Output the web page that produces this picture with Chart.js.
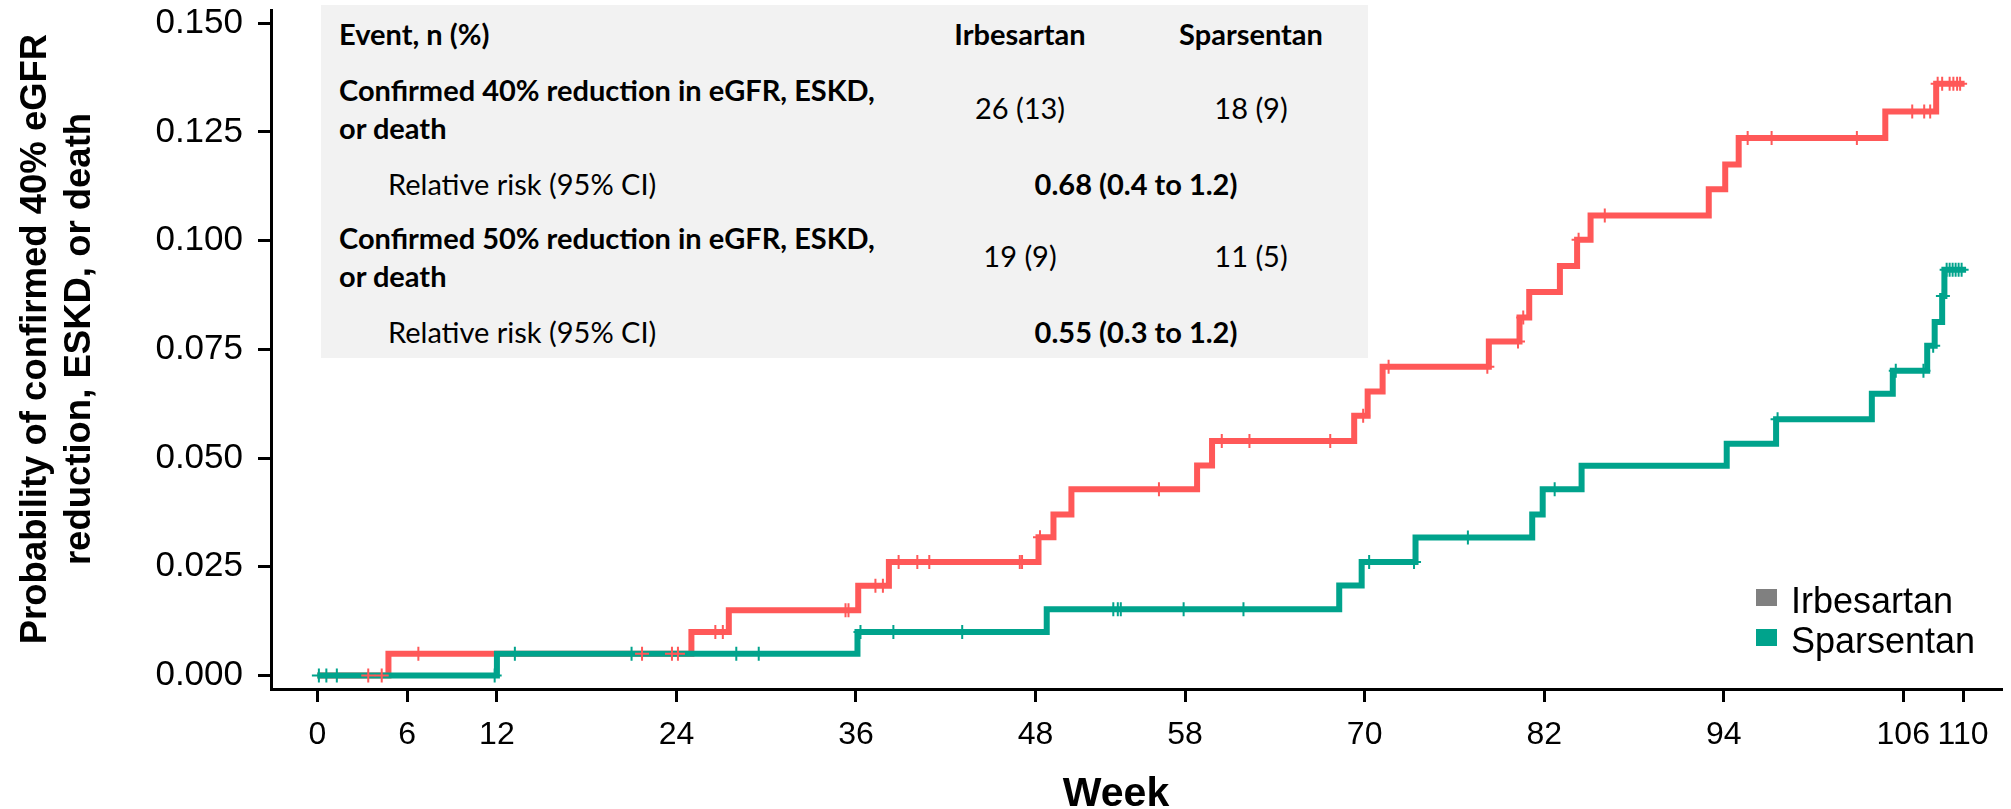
<!DOCTYPE html>
<html>
<head>
<meta charset="utf-8">
<script src="https://cdn.jsdelivr.net/npm/chart.js@4.4.0/dist/chart.umd.min.js"></script>
<style>
  html, body { margin: 0; padding: 0; background: #fff; }
  #wrap { position: relative; width: 2011px; height: 809px; }
  #km { position: absolute; left: 0; top: 0; }
  #inset { position: absolute; left: 321px; top: 5px; width: 1047px; height: 353px;
           background: #f2f2f2; font-family: Lato, 'Open Sans', sans-serif; font-size: 29px; color: #000; }
  #inset span { position: absolute; white-space: nowrap; line-height: 1; }
  .b { font-weight: bold; }
  .l { transform: translateY(-50%); }
  .c { transform: translate(-50%, -50%); }
</style>
</head>
<body>
<div id="wrap">
  <canvas id="km" width="2011" height="809"></canvas>
  <div id="inset"></div>
</div>
<script>
// ---------------------------------------------------------------------------
// Data
// ---------------------------------------------------------------------------

const seriesNames = ['Irbesartan', 'Sparsentan'];
const lineColors = ['#FF5858', '#00A38C'];
const legendColors = ['#808080', '#00A38C'];

const xTitle = 'Week';
const yTitle = ['Probability of confirmed 40% eGFR', 'reduction, ESKD, or death'];
const xTicks = [0, 6, 12, 24, 36, 48, 58, 70, 82, 94, 106, 110];
const yTicks = [0, 0.025, 0.05, 0.075, 0.1, 0.125, 0.15];

// Irbesartan: event weeks and cumulative probability after each step
const irbWeeks = [0, 4.75, 25.0, 27.5, 36.15, 38.2, 48.2, 49.2, 50.4, 58.8, 59.8, 69.3, 70.2, 71.2,
                  78.3, 80.35, 81.0, 83.05, 84.2, 85.1, 93.0, 94.1, 95.0, 104.8, 108.2, 110.1];
const irbProb  = [0, 0.005, 0.010, 0.015, 0.0206, 0.0261, 0.0318, 0.037, 0.0428, 0.0483, 0.0539, 0.0597, 0.0653, 0.071,
                  0.0768, 0.0823, 0.0882, 0.0942, 0.1002, 0.1058, 0.1118, 0.1175, 0.1236, 0.1297, 0.1361, 0.1361];
const irbCensor = [3.4, 4.3, 6.75, 21.7, 23.7, 24.1, 26.6, 27.1, 35.3, 35.5, 37.3, 37.8, 38.85, 40.1, 40.9,
                   46.95, 47.1, 48.3, 56.25, 60.45, 62.3, 67.7, 69.9, 71.6, 78.2, 80.25, 80.6, 84.3, 86.05,
                   95.6, 97.2, 102.9, 106.6, 107.4, 107.8, 108.3, 108.6, 109.1, 109.35, 109.6, 109.8];

// Sparsentan
const sparWeeks = [0, 12.0, 36.1, 48.75, 68.3, 69.8, 73.4, 81.2, 81.9, 84.5, 94.2, 97.5,
                   103.9, 105.3, 107.6, 108.1, 108.6, 108.75, 110.2];
const sparProb  = [0, 0.005, 0.010, 0.0152, 0.0207, 0.0261, 0.0317, 0.037, 0.0428, 0.0482, 0.0533, 0.0589,
                   0.0648, 0.0701, 0.0758, 0.0813, 0.0873, 0.0933, 0.0933];
const sparCensor = [0.1, 0.6, 1.3, 11.85, 13.2, 21.0, 28.0, 29.5, 36.3, 38.5, 43.1, 53.2, 53.5, 53.7, 57.9, 61.9,
                    70.3, 73.3, 76.9, 82.7, 97.6, 105.5, 107.35, 108.0, 108.65, 108.9, 109.1, 109.3, 109.5, 109.7, 109.9];

// Inset table
const headerCols = ['Event, n (%)', 'Irbesartan', 'Sparsentan'];
const outcomeLabels = [['Confirmed 40% reduction in eGFR, ESKD,', 'or death'],
                       ['Confirmed 50% reduction in eGFR, ESKD,', 'or death']];
const irbCounts = ['26 (13)', '19 (9)'];
const sparCounts = ['18 (9)', '11 (5)'];
const rrLabel = 'Relative risk (95% CI)';
const rrValues = ['0.68 (0.4 to 1.2)', '0.55 (0.3 to 1.2)'];

// ---------------------------------------------------------------------------
// Helpers
// ---------------------------------------------------------------------------

function stepPoints(weeks, probs) { return weeks.map((w, i) => ({ x: w, y: probs[i] })); }
function levelAt(weeks, probs, t) {
  let v = probs[0];
  weeks.forEach((w, i) => { if (w <= t) v = probs[i]; });
  return v;
}
function censorPoints(times, weeks, probs) { return times.map(t => ({ x: t, y: levelAt(weeks, probs, t) })); }

// ---------------------------------------------------------------------------
// Inset table
// ---------------------------------------------------------------------------

const inset = document.getElementById('inset');
function put(text, x, y, cls) {
  const s = document.createElement('span');
  s.className = cls;
  s.textContent = text;
  s.style.left = x + 'px';
  s.style.top = y + 'px';
  inset.appendChild(s);
}
put(headerCols[0], 18, 28, 'b l');
put(headerCols[1], 699, 28, 'b c');
put(headerCols[2], 930, 28, 'b c');
outcomeLabels.forEach((lines, i) => {
  const y0 = 84 + i * 148;
  put(lines[0], 18, y0, 'b l');
  put(lines[1], 18, y0 + 38, 'b l');
  put(irbCounts[i], 699, y0 + 18, 'c');
  put(sparCounts[i], 930, y0 + 18, 'c');
  put(rrLabel, 67, y0 + 94, 'l');
  put(rrValues[i], 815, y0 + 94, 'b c');
});

// ---------------------------------------------------------------------------
// Chart
// ---------------------------------------------------------------------------

const FONT = "'Liberation Sans', Arial, sans-serif";
Chart.defaults.font.family = FONT;
Chart.defaults.color = '#000';

// legend box in the lower right of the plot
const cornerLegend = {
  id: 'cornerLegend',
  afterDraw(chart) {
    const { ctx, chartArea } = chart;
    ctx.save();
    ctx.font = '36px ' + FONT;
    ctx.textBaseline = 'alphabetic';
    seriesNames.forEach((name, i) => {
      const base = chartArea.bottom - 76 + i * 40;
      ctx.fillStyle = legendColors[i];
      ctx.fillRect(chartArea.right - 246, base - 24, 21, 17);
      ctx.fillStyle = '#000';
      ctx.fillText(name, chartArea.right - 211, base);
    });
    ctx.restore();
  }
};

// axis titles, placed like the original (slightly off-centre)
const axisTitles = {
  id: 'axisTitles',
  afterDraw(chart) {
    const { ctx, chartArea } = chart;
    ctx.save();
    ctx.fillStyle = '#000';
    ctx.textAlign = 'center';
    ctx.textBaseline = 'alphabetic';
    ctx.font = 'bold 41px ' + FONT;
    ctx.fillText(xTitle, chartArea.left + 845, chart.height - 3);
    ctx.font = 'bold 36.5px ' + FONT;
    ctx.translate(0, chartArea.top + 329);
    ctx.rotate(-Math.PI / 2);
    yTitle.forEach((line, i) => ctx.fillText(line, 0, 46 + i * 44));
    ctx.restore();
  }
};

new Chart(document.getElementById('km'), {
  type: 'line',
  data: {
    datasets: [
      { type: 'scatter', label: seriesNames[0] + ' censored', data: censorPoints(irbCensor, irbWeeks, irbProb),
        pointStyle: 'cross', pointRadius: 7, borderWidth: 2, borderColor: lineColors[0], order: 0 },
      { type: 'scatter', label: seriesNames[1] + ' censored', data: censorPoints(sparCensor, sparWeeks, sparProb),
        pointStyle: 'cross', pointRadius: 7, borderWidth: 2, borderColor: lineColors[1], order: 0 },
      { label: seriesNames[1], data: stepPoints(sparWeeks, sparProb), stepped: 'before',
        borderColor: lineColors[1], borderWidth: 6, pointRadius: 0, fill: false, order: 1 },
      { label: seriesNames[0], data: stepPoints(irbWeeks, irbProb), stepped: 'before',
        borderColor: lineColors[0], borderWidth: 6, pointRadius: 0, fill: false, order: 2 },
    ]
  },
  options: {
    responsive: false,
    animation: false,
    layout: { padding: { top: 10, right: 9, left: 0, bottom: 0 } },
    plugins: { legend: { display: false }, tooltip: { enabled: false } },
    scales: {
      x: {
        type: 'linear', min: -3.1, max: 112.6,
        afterBuildTicks: s => { s.ticks = xTicks.map(v => ({ value: v })); },
        afterFit: s => { s.height = 120; s.paddingLeft = 0; s.paddingRight = 0; },
        ticks: { autoSkip: false, maxRotation: 0, padding: 14, font: { size: 32 },
                 callback: v => String(v) },
        grid: { drawOnChartArea: false, drawTicks: true, tickLength: 13, tickWidth: 3, tickColor: '#000' },
        border: { display: true, color: '#000', width: 3 }
      },
      y: {
        type: 'linear', min: -0.00313, max: 0.15306,
        afterBuildTicks: s => { s.ticks = yTicks.map(v => ({ value: v })); },
        afterFit: s => { s.width = 271; s.paddingTop = 0; s.paddingBottom = 0; },
        ticks: { autoSkip: false, padding: 15, font: { size: 35 },
                 callback: v => Number(v).toFixed(3) },
        grid: { drawOnChartArea: false, drawTicks: true, tickLength: 13, tickWidth: 3, tickColor: '#000' },
        border: { display: true, color: '#000', width: 3 }
      }
    }
  },
  plugins: [cornerLegend, axisTitles]
});
</script>
</body>
</html>
